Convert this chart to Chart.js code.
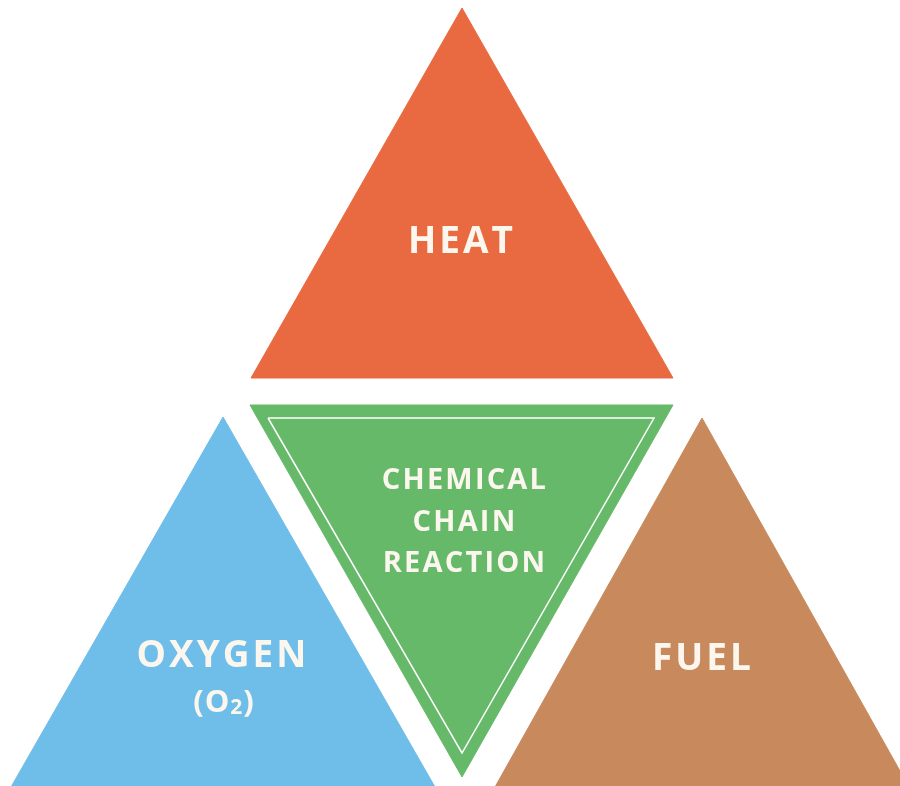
<!DOCTYPE html>
<html>
<head>
<meta charset="utf-8">
<script src="https://cdn.jsdelivr.net/npm/chart.js@4.4.0/dist/chart.umd.min.js"></script>
<style>
  html, body { margin: 0; padding: 0; background: #ffffff; }
  #wrap { width: 900px; height: 786px; }
</style>
</head>
<body>
<div id="wrap"><canvas id="fireChart" width="900" height="786"></canvas></div>
<script>
// triangle corners, in diagram units (x right, y down)
const heatX = [462, 673, 251, 462];
const heatY = [8, 378, 378, 8];
const chemX = [250, 673, 462, 250];
const chemY = [405, 405, 777, 405];
const chemInnerX = [268, 654, 462, 268];
const chemInnerY = [418, 418, 753, 418];
const oxygenX = [223, 435, 11, 223];
const oxygenY = [417, 787, 787, 417];
const fuelX = [702, 909, 495, 702];
const fuelY = [418, 787, 787, 418];

// labels
const labelText = ['HEAT', 'CHEMICAL', 'CHAIN', 'REACTION', 'OXYGEN', 'FUEL'];
const labelX = [462, 465, 465, 465, 223, 703];
const labelY = [242, 481, 523, 564, 656, 659];
const labelSize = [37, 29, 29, 29, 37, 37];
const labelSpacing = [3, 2.2, 2.2, 2.2, 3, 3];

const colors = {
    heat: '#e96a40',
    chem: '#67b96a',
    oxygen: '#6fbde9',
    fuel: '#c88a5d',
    text: '#fbf7ee'
};

function pts(xs, ys) {
    return xs.map((x, i) => ({ x: x, y: ys[i] }));
}

function shape(xs, ys, color) {
    return {
        data: pts(xs, ys),
        showLine: true,
        fill: 'shape',
        backgroundColor: color,
        borderColor: color,
        borderWidth: 1,
        pointRadius: 0,
        tension: 0
    };
}

const labelPlugin = {
    id: 'labels',
    afterDatasetsDraw(chart) {
        const ctx = chart.ctx;
        const sx = chart.scales.x, sy = chart.scales.y;
        ctx.save();
        ctx.fillStyle = colors.text;
        ctx.textAlign = 'center';
        ctx.textBaseline = 'middle';
        labelText.forEach((t, i) => {
            ctx.font = `bold ${labelSize[i]}px "Open Sans", sans-serif`;
            ctx.letterSpacing = labelSpacing[i] + 'px';
            ctx.fillText(t, sx.getPixelForValue(labelX[i]), sy.getPixelForValue(labelY[i]));
        });

        // (O2) with a small subscript 2
        const cx = sx.getPixelForValue(224), cy = sy.getPixelForValue(703);
        ctx.letterSpacing = '1px';
        ctx.textAlign = 'left';
        const big = 'bold 31px "Open Sans", sans-serif';
        const small = 'bold 21px "Open Sans", sans-serif';
        ctx.font = big;
        const w1 = ctx.measureText('(O').width;
        const w3 = ctx.measureText(')').width;
        ctx.font = small;
        const w2 = ctx.measureText('2').width;
        let x = cx - (w1 + w2 + w3) / 2;
        ctx.font = big;
        ctx.fillText('(O', x, cy);
        ctx.font = small;
        ctx.fillText('2', x + w1, cy + 5);
        ctx.font = big;
        ctx.fillText(')', x + w1 + w2, cy);
        ctx.restore();
    }
};

const innerLine = {
    data: pts(chemInnerX, chemInnerY),
    showLine: true,
    fill: false,
    borderColor: '#ffffff',
    borderWidth: 1.5,
    pointRadius: 0,
    tension: 0
};

// first dataset is drawn on top
new Chart(document.getElementById('fireChart'), {
    type: 'scatter',
    data: {
        datasets: [
            innerLine,
            shape(chemX, chemY, colors.chem),
            shape(heatX, heatY, colors.heat),
            shape(oxygenX, oxygenY, colors.oxygen),
            shape(fuelX, fuelY, colors.fuel)
        ]
    },
    options: {
        responsive: false,
        animation: false,
        layout: { padding: 0 },
        scales: {
            x: { type: 'linear', min: 0, max: 900, display: false },
            y: { type: 'linear', min: 0, max: 786, reverse: true, display: false }
        },
        plugins: {
            legend: { display: false },
            tooltip: { enabled: false }
        }
    },
    plugins: [labelPlugin]
});
</script>
</body>
</html>
